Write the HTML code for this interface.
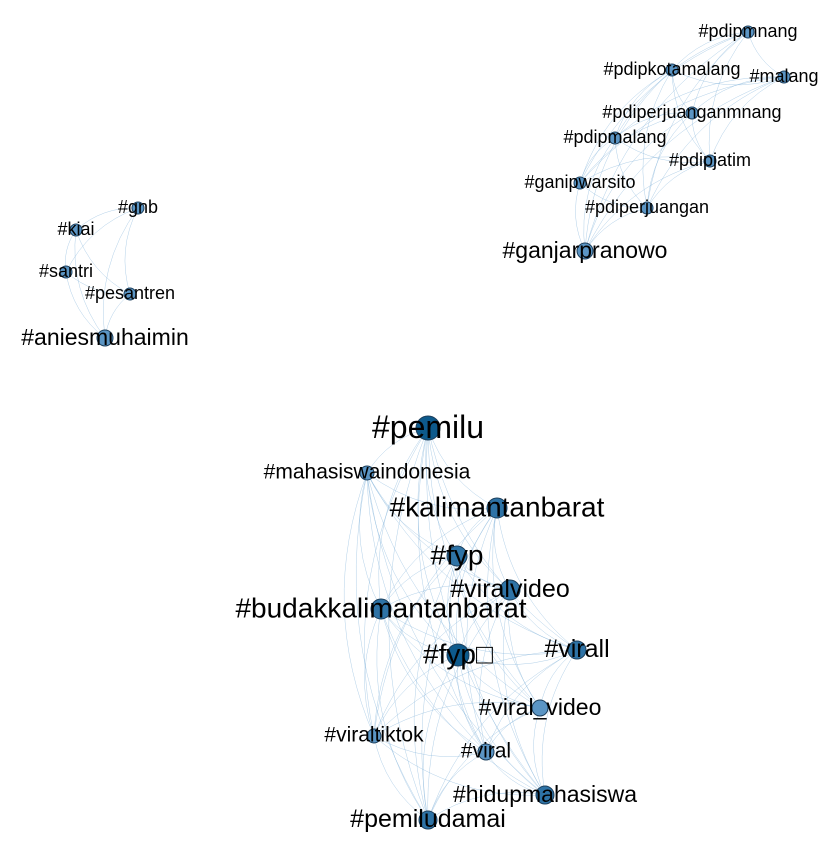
<!DOCTYPE html>
<html><head><meta charset="utf-8">
<style>
html,body{margin:0;padding:0;background:#fff;}
svg{display:block;font-family:"Liberation Sans","Noto Sans CJK SC",sans-serif;}
</style></head>
<body>
<svg id="chart" width="830" height="842" viewBox="0 0 830 842">
<g id="edges"></g>
<g id="nodes"></g>
<g id="labels"></g>
</svg>
<script>
const nodeNames = ["#pdipmnang","#pdipkotamalang","#malang","#pdiperjuanganmnang","#pdipmalang","#pdipjatim","#ganipwarsito","#pdiperjuangan","#ganjarpranowo",
"#gnb","#kiai","#santri","#pesantren","#aniesmuhaimin",
"#pemilu","#mahasiswaindonesia","#kalimantanbarat","#fyp","#viralvideo","#budakkalimantanbarat","#fyp\u25A1","#virall","#viral_video","#viraltiktok","#viral","#hidupmahasiswa","#pemiludamai"];
const nodeX = [748,672,784,692,615,710,580,647,585, 138,76,66,130,105, 428,367,497,457,510,381,458,577,540,374,486,545,428];
const nodeY = [32,70,77,113,138,161,183,208,251, 208,230,272,294,338, 428,473,508,556,590,609,655,650,708,736,752,795,820];
const nodeWeight = [6,6,6,6,6,6,6,6,8, 6,6,6,6,8, 12,7,10,10,10,10,11,9,8,7,8,9,9];
const nodeCluster = [0,0,0,0,0,0,0,0,0, 1,1,1,1,1, 2,2,2,2,2,2,2,2,2,2,2,2,2];
const labelSize = [18,18,18,18,18,18,18,18,23, 18,18,18,18,23, 32,21,28,28,25,28,28,25,23,21,21,23,25];
const NS="http://www.w3.org/2000/svg";
const eg=document.getElementById('edges'),ng=document.getElementById('nodes'),lg=document.getElementById('labels');
for(let i=0;i<nodeNames.length;i++){
  for(let j=i+1;j<nodeNames.length;j++){
    if(nodeCluster[i]!==nodeCluster[j]) continue;
    const x1=nodeX[i],y1=nodeY[i],x2=nodeX[j],y2=nodeY[j];
    const mx=(x1+x2)/2,my=(y1+y2)/2,dx=x2-x1,dy=y2-y1;
    const k=0.2;
    const cx=mx-dy*k,cy=my+dx*k;
    const p=document.createElementNS(NS,'path');
    p.setAttribute('d',`M${x1},${y1} Q${cx},${cy} ${x2},${y2}`);
    p.setAttribute('fill','none');
    p.setAttribute('stroke','#7fb0d8');
    p.setAttribute('stroke-width','0.5');
    p.setAttribute('stroke-opacity','0.6');
    
    
    eg.appendChild(p);
  }
}
for(let i=0;i<nodeNames.length;i++){
  const c=document.createElementNS(NS,'circle');
  c.setAttribute('cx',nodeX[i]);c.setAttribute('cy',nodeY[i]);c.setAttribute('r',nodeWeight[i]);
  const w=nodeWeight[i];
  const fill=w>=11?'#0d5a8c':(w>=9?'#2e73a6':'#5b95c4');
  c.setAttribute('fill',fill);c.setAttribute('stroke','#1d3f5c');c.setAttribute('stroke-width','1');
  
  
  ng.appendChild(c);
  const t=document.createElementNS(NS,'text');
  t.setAttribute('x',nodeX[i]);t.setAttribute('y',nodeY[i]-1);
  t.setAttribute('text-anchor','middle');t.setAttribute('dominant-baseline','central');
  t.setAttribute('font-size',labelSize[i]);t.setAttribute('fill','#000');
  t.textContent=nodeNames[i];
  
  
  lg.appendChild(t);
}
</script>
</body></html>
